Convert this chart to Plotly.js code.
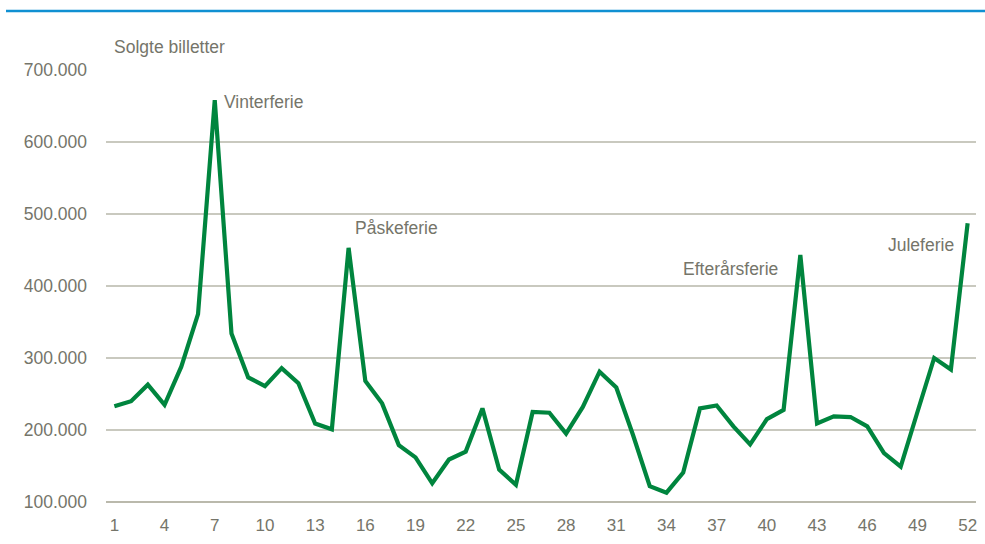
<!DOCTYPE html>
<html>
<head>
<meta charset="utf-8">
<script src="https://cdn.plot.ly/plotly-3.0.1.min.js"></script>
<style>html,body{margin:0;padding:0;background:#fff;}#chart{width:985px;height:544px;}</style>
</head>
<body>
<div id="chart"></div>
<script>
const weeks = Array.from({length: 52}, (_, i) => i + 1);
const tickWeeks = [1, 4, 7, 10, 13, 16, 19, 22, 25, 28, 31, 34, 37, 40, 43, 46, 49, 52];
const soldTickets = [
  233000, 240000, 263000, 235000, 288000, 361000, 658000, 334000, 273000, 261000,
  286000, 265000, 209000, 201000, 453000, 268000, 237000, 179000, 162000, 126000,
  159000, 170000, 230000, 145000, 124000, 225000, 224000, 195000, 232000, 281000,
  259000, 193000, 122000, 113000, 141000, 230000, 234000, 205000, 180000, 215000,
  228000, 443000, 209000, 219000, 218000, 205000, 168000, 149000, 225000, 300000,
  284000, 487000
];
const holidayNames = ["Vinterferie", "Påskeferie", "Efterårsferie", "Juleferie"];
const holidayX = [7.43, 15.26, 40.79, 51.3];
const holidayY = [655000, 481000, 424000, 457000];
const holidayAnchor = ["left", "left", "right", "right"];

const textColor = "#75756a";
const font = {family: "Liberation Sans, Arial, sans-serif", size: 17.5, color: textColor};
const xfont = {family: "Liberation Sans, Arial, sans-serif", size: 17, color: textColor};

const trace = {
  x: weeks, y: soldTickets, type: "scatter", mode: "lines",
  line: {color: "#00853e", width: 4.2}, hoverinfo: "skip"
};

const annotations = holidayNames.map((t, i) => ({
  x: holidayX[i], y: holidayY[i], xref: "x", yref: "y", text: t,
  showarrow: false, xanchor: holidayAnchor[i], yanchor: "middle", font: font
}));
annotations.push({
  x: (112 - 106) / 870, y: (502 - 47) / 432, xref: "paper", yref: "paper",
  text: "Solgte billetter", showarrow: false, xanchor: "left", yanchor: "middle", font: font
});

const layout = {
  width: 985, height: 544,
  margin: {l: 106, r: 9, t: 70, b: 42},
  paper_bgcolor: "#ffffff", plot_bgcolor: "#ffffff",
  separators: ",.",
  showlegend: false,
  font: font,
  xaxis: {
    range: [0.5, 52.5], tickmode: "array", tickvals: tickWeeks,
    ticktext: tickWeeks.map(String),
    showgrid: false, zeroline: false, showline: false, ticks: "",
    ticklabelstandoff: 11, tickfont: xfont, fixedrange: true
  },
  yaxis: {
    range: [100000, 700000], dtick: 100000, tickformat: ",d",
    showgrid: true, gridcolor: "#c9c9bf", gridwidth: 1.3,
    zeroline: false, showline: false, ticks: "",
    ticklabelstandoff: 18, tickfont: font, fixedrange: true
  },
  shapes: [
    {type: "line", xref: "paper", yref: "paper",
     x0: 0, x1: 1, y0: 0, y1: 0, line: {color: "#a3a291", width: 1.5}},
    {type: "line", xref: "paper", yref: "paper",
     x0: (6 - 106) / 870, x1: (985 - 106) / 870, y0: (502 - 11) / 432, y1: (502 - 11) / 432,
     line: {color: "#1090d2", width: 2.5}}
  ],
  annotations: annotations
};

Plotly.newPlot("chart", [trace], layout, {displayModeBar: false, staticPlot: true});
</script>
</body>
</html>
